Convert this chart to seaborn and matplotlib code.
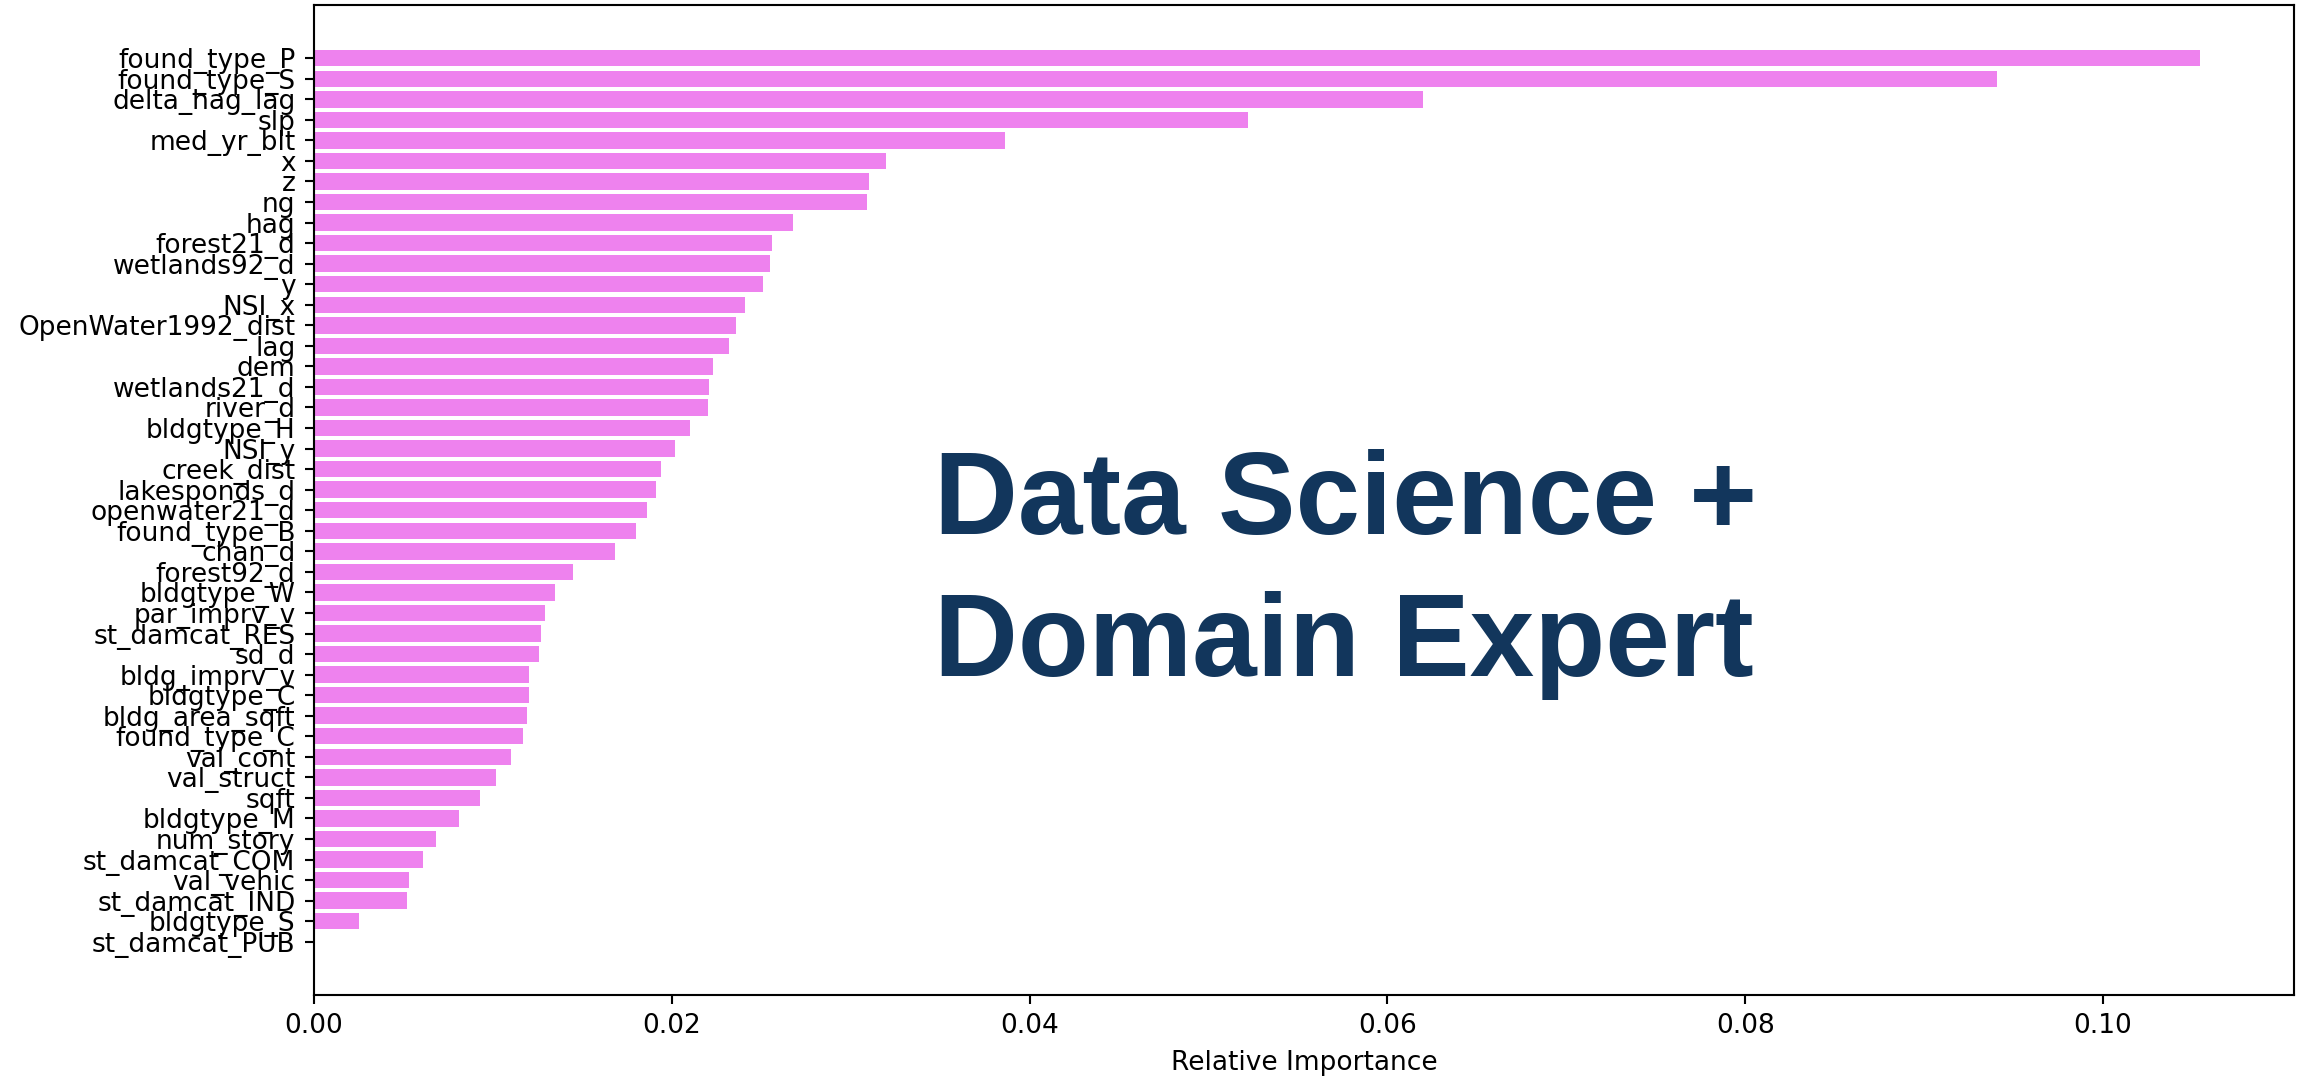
import pandas as pd
import matplotlib.pyplot as plt
import seaborn as sns

# feature importances, ordered from most to least important
features = [
    "found_type_P", "found_type_S", "delta_hag_lag", "slp", "med_yr_blt",
    "x", "z", "ng", "hag", "forest21_d", "wetlands92_d", "y", "NSI_x",
    "OpenWater1992_dist", "lag", "dem", "wetlands21_d", "river_d",
    "bldgtype_H", "NSI_y", "creek_dist", "lakesponds_d", "openwater21_d",
    "found_type_B", "chan_d", "forest92_d", "bldgtype_W", "par_imprv_v",
    "st_damcat_RES", "sd_d", "bldg_imprv_v", "bldgtype_C", "bldg_area_sqft",
    "found_type_C", "val_cont", "val_struct", "sqft", "bldgtype_M",
    "num_story", "st_damcat_COM", "val_vehic", "st_damcat_IND", "bldgtype_S",
    "st_damcat_PUB",
]
importances = [
    0.1054, 0.0941, 0.0620, 0.0522, 0.0386,
    0.0320, 0.0310, 0.0309, 0.0268, 0.0256, 0.0255, 0.0251, 0.0241,
    0.0236, 0.0232, 0.0223, 0.0221, 0.0220,
    0.0210, 0.0202, 0.0194, 0.0191, 0.0186,
    0.0180, 0.0168, 0.0145, 0.0135, 0.0129,
    0.0127, 0.0126, 0.0120, 0.0120, 0.0119,
    0.0117, 0.0110, 0.0102, 0.0093, 0.0081,
    0.0068, 0.0061, 0.0053, 0.0052, 0.0025,
    0.0,
]
overlay_lines = ["Data Science +", "Domain Expert"]

df = pd.DataFrame({"feature": features, "importance": importances})

dpi = 190
fig = plt.figure(figsize=(2305 / dpi, 1081 / dpi), dpi=dpi)
ax = fig.add_axes([0.1362, 0.0796, 0.9952 - 0.1362, 0.9954 - 0.0796])

sns.barplot(
    data=df, y="feature", x="importance", order=features,
    color="violet", saturation=1, errorbar=None, width=0.8, ax=ax
)

# same padding matplotlib's barh would give
n = len(features)
pad = 0.4 + 0.05 * (n - 1 + 0.8)
ax.set_ylim(n - 1 + pad, -pad)
ax.set_xlim(0, max(importances) * 1.05)

ax.set_ylabel("")
ax.set_xlabel("Relative Importance")

# big overlay caption
for i, line in enumerate(overlay_lines):
    fig.text(0.405, 0.506 - i * 0.1314, line, fontsize=44, fontweight="bold",
             family="Liberation Sans", color="#12365C", va="baseline", ha="left")

fig.savefig("out.png", dpi=dpi, facecolor="white")
